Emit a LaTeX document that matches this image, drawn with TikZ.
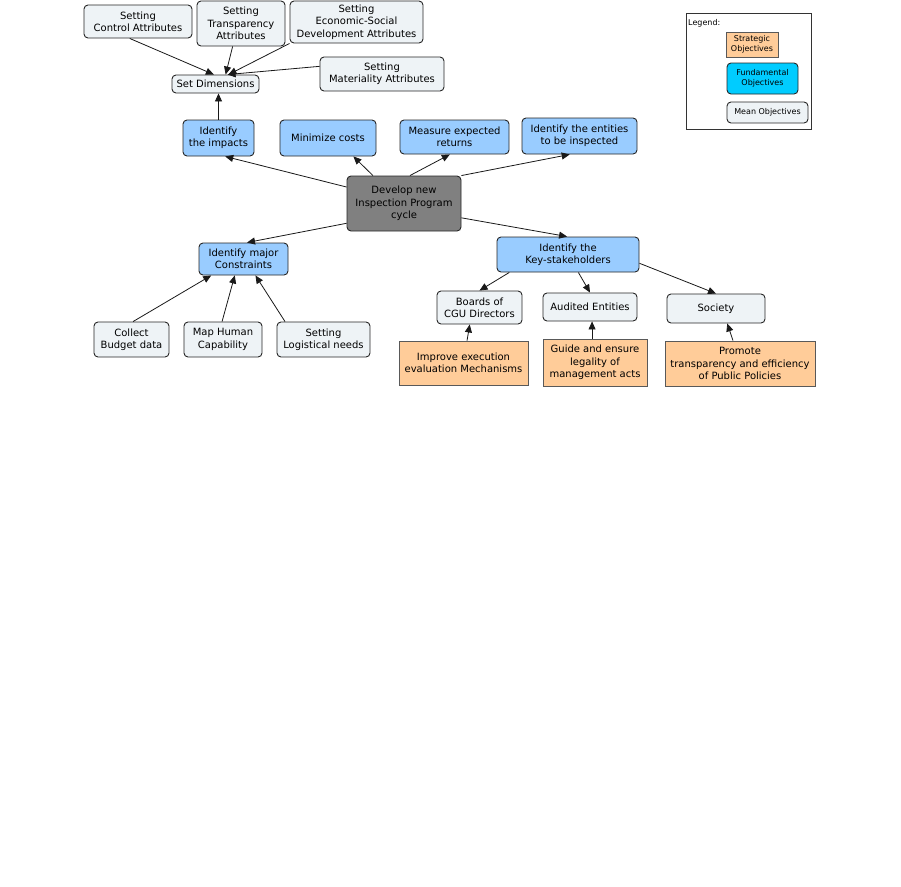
\documentclass[tikz,border=0pt]{standalone}
\usepackage{fontspec}
\setmainfont{DejaVu Sans}
\usetikzlibrary{arrows.meta}

\definecolor{fundblue}{HTML}{99CCFF}
\definecolor{meangray}{HTML}{EEF3F6}
\definecolor{stratorange}{HTML}{FFCC99}
\definecolor{legendcyan}{HTML}{00CCFF}
\definecolor{rootgray}{HTML}{808080}

\tikzset{
  objbox/.style={draw=black!85, line width=0.9pt, rounded corners=4pt, align=center,
    inner sep=0pt, font=\fontsize{10}{12.3}\selectfont},
  meanobj/.style={objbox, fill=meangray},
  fundobj/.style={objbox, fill=fundblue},
  stratobj/.style={objbox, rounded corners=0pt, draw=black!65, fill=stratorange},
  rootobj/.style={objbox, fill=rootgray},
  boxsize/.style 2 args={minimum width=#1pt, minimum height=#2pt},
  link/.style={draw=black!90, line width=0.8pt, -{Triangle[length=8pt,width=7pt]}}
}

\begin{document}
\begin{tikzpicture}[x=1pt, y=-1pt]
  \useasboundingbox (0,0) rectangle (901,886);

  % Dimension attributes
  \node[meanobj, boxsize={108}{33}] (ctrl) at (138,21.5) {Setting\\Control Attributes};
  \node[meanobj, boxsize={88}{45}] (transp) at (241,23.5) {Setting\\Transparency\\Attributes};
  \node[meanobj, boxsize={133}{42}] (econ) at (356.5,22) {Setting\\Economic-Social\\Development Attributes};
  \node[meanobj, boxsize={124}{34}] (mater) at (382,74) {Setting\\Materiality Attributes};
  \node[meanobj, boxsize={87}{18}] (setdim) at (215.5,84) {Set Dimensions};

  % Fundamental objectives
  \node[fundobj, boxsize={71}{36}] (impacts) at (218.5,138) {Identify\\the impacts};
  \node[fundobj, boxsize={96}{36}] (mincost) at (328,138) {Minimize costs};
  \node[fundobj, boxsize={109}{34}] (measure) at (454.5,137) {Measure expected\\returns};
  \node[fundobj, boxsize={115}{36}] (entities) at (579.5,136) {Identify the entities\\to be inspected};

  % Root
  \node[rootobj, boxsize={114}{55}] (develop) at (404,203.5) {Develop new\\Inspection Program\\cycle};

  % Constraints
  \node[fundobj, boxsize={89}{32}] (constr) at (243.5,259) {Identify major\\Constraints};
  \node[meanobj, boxsize={75}{35}] (budget) at (131.5,339.5) {Collect\\Budget data};
  \node[meanobj, boxsize={78}{35}] (human) at (223,339.5) {Map Human\\Capability};
  \node[meanobj, boxsize={93}{35}] (logist) at (323.5,339.5) {Setting\\Logistical needs};

  % Stakeholders
  \node[fundobj, boxsize={142}{35}] (keystake) at (568,254.5) {Identify the\\Key-stakeholders};
  \node[meanobj, boxsize={85}{33}] (boards) at (479.5,307.5) {Boards of\\CGU Directors};
  \node[meanobj, boxsize={94}{28}] (audited) at (590,307) {Audited Entities};
  \node[meanobj, boxsize={98}{29}] (society) at (716,308.5) {Society};

  % Strategic objectives
  \node[stratobj, boxsize={129}{44}] (improve) at (463.5,363) {Improve execution\\evaluation Mechanisms};
  \node[stratobj, boxsize={104}{47}] (guide) at (595,362.5) {Guide and ensure\\legality of\\management acts};
  \node[stratobj, boxsize={150}{45}] (promote) at (740,363.5) {Promote\\transparency and efficiency\\of Public Policies};

  % Links
  \draw[link] (ctrl.-116) -- (setdim.100);
  \draw[link] (transp.-110) -- (setdim.43);
  \draw[link] (econ.south west) -- (setdim.36);
  \draw[link] (mater.173) -- (setdim.38);
  \draw[link] (impacts.north) -- (impacts.north |- setdim.south);
  \draw[link] (develop.164) -- (impacts.-70);
  \draw[link] (develop.138) -- (mincost.-36);
  \draw[link] (develop.78) -- (measure.-105);
  \draw[link] (develop.north east) -- (entities.-118);
  \draw[link] (develop.-161) -- (constr.78);
  \draw[link] (develop.-14) -- (keystake.93);
  \draw[link] (budget.85) -- (constr.-153);
  \draw[link] (human.93) -- (constr.-118);
  \draw[link] (logist.155) -- (constr.-54);
  \draw[link] (keystake.-163) -- (boards.north);
  \draw[link] (keystake.-60) -- (audited.north);
  \draw[link] (keystake.-7) -- (society.north);
  \draw[link] (improve.81) -- (boards.-120);
  \draw[link] (guide.97) -- (guide.97 |- audited.south);
  \draw[link] (promote.107) -- (society.-53);

  % Legend
  \draw[draw=black!80, line width=0.6pt] (686,13) rectangle (811,129);
  \node[anchor=west, inner sep=0pt, font=\fontsize{8}{9.6}\selectfont] (legendtitle) at (688,23) {Legend:};
  \node[stratobj, boxsize={52}{25}, font=\fontsize{8}{9.6}\selectfont] (legstrat) at (752,44.5) {Strategic\\Objectives};
  \node[objbox, fill=legendcyan, boxsize={71}{31}, font=\fontsize{8}{9.6}\selectfont] (legfund) at (762.5,78.5) {Fundamental\\Objectives};
  \node[meanobj, boxsize={81}{21}, font=\fontsize{8}{9.6}\selectfont] (legmean) at (767.5,112.5) {Mean Objectives};
\end{tikzpicture}
\end{document}
